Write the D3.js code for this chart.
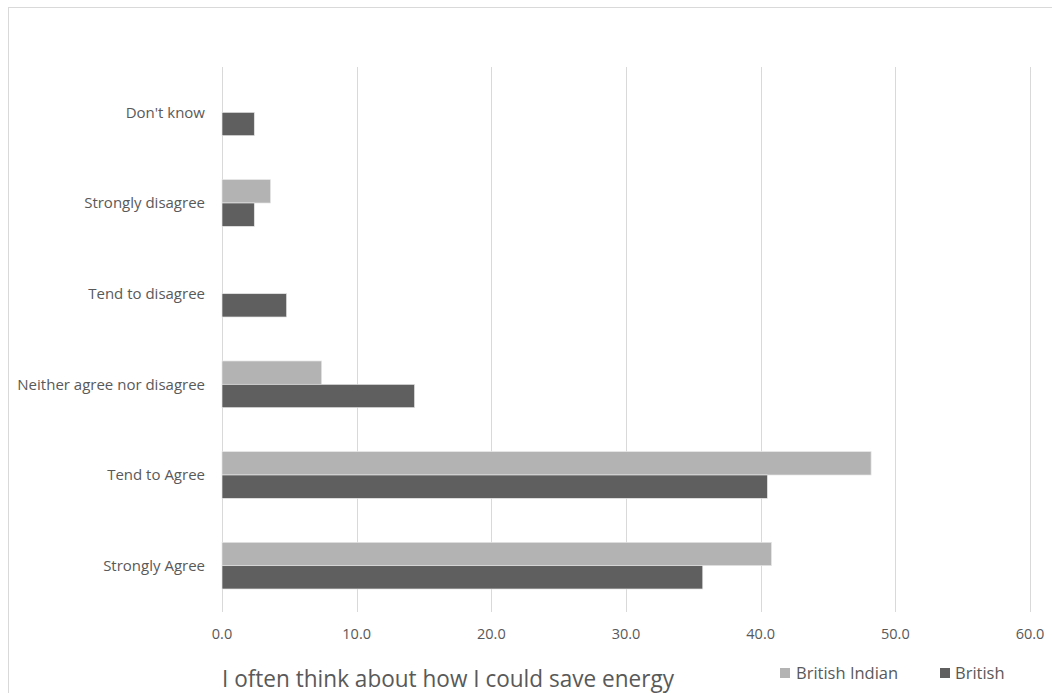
<!DOCTYPE html>
<html><head><meta charset="utf-8">
<script src="https://cdn.jsdelivr.net/npm/d3@7"></script>
<style>body{margin:0;background:#fff}svg{display:block}text{font-family:"Open Sans","Liberation Sans",sans-serif;fill:#595959}</style>
</head><body><svg id="c" width="1052" height="693"></svg>
<script>
const categories = ["Don't know","Strongly disagree","Tend to disagree","Neither agree nor disagree","Tend to Agree","Strongly Agree"];
const seriesNames = ["British Indian","British"];
const britishIndian = [0,3.6,0,7.4,48.2,40.8];
const british = [2.4,2.4,4.8,14.3,40.5,35.7];
const xTicks = [0,10,20,30,40,50,60];
const colors = ["#b3b3b3","#5f5f5f"];
const title = "I often think about how I could save energy";

const svg = d3.select("#c");
svg.append("rect").attr("x",8.5).attr("y",7.5).attr("width",1050).attr("height",700)
  .attr("fill","none").attr("stroke","#d9d9d9");

const x = d3.scaleLinear().domain([0,60]).range([222,1030]);
const y = d3.scaleBand().domain(categories).range([67,611]).paddingInner(0.485).paddingOuter(0.2425);
const ys = d3.scaleBand().domain(seriesNames).range([0,y.bandwidth()]);

// gridlines
svg.append("g").selectAll("line").data(xTicks).join("line")
  .attr("x1",d=>Math.round(x(d))+0.5).attr("x2",d=>Math.round(x(d))+0.5)
  .attr("y1",67).attr("y2",612).attr("stroke","#d9d9d9").attr("stroke-width",1);

const data = categories.map((c,i)=>({c, vals:[britishIndian[i],british[i]]}));
const g = svg.append("g");
data.forEach(d=>{
  d.vals.forEach((v,j)=>{
    if(v<=0) return;
    g.append("rect").attr("x",x(0)).attr("y",y(d.c)+ys(seriesNames[j]))
      .attr("width",x(v)-x(0)).attr("height",ys.bandwidth())
      .attr("fill",colors[j]).attr("stroke","#e6e6e6").attr("stroke-width",0.7);
  });
});

// category labels
svg.append("g").selectAll("text").data(categories).join("text")
  .attr("x",205).attr("y",d=>y(d)+y.bandwidth()/2).attr("dy","0.35em")
  .attr("text-anchor","end").style("font-size","15px").text(d=>d);

// x tick labels
svg.append("g").selectAll("text").data(xTicks).join("text")
  .attr("x",d=>x(d)).attr("y",639).attr("text-anchor","middle")
  .style("font-size","14.5px").text(d=>d3.format(".1f")(d));

// title
svg.append("text").attr("x",222).attr("y",687).style("font-size","23px")
  .attr("textLength",452).attr("lengthAdjust","spacingAndGlyphs").text(title);

// legend
const leg = [{n:seriesNames[0],x:780,tx:796},{n:seriesNames[1],x:940,tx:955}];
leg.forEach((l,i)=>{
  svg.append("rect").attr("x",l.x).attr("y",668).attr("width",10).attr("height",10).attr("fill",colors[i]);
  svg.append("text").attr("x",l.tx).attr("y",679).style("font-size","16.5px").text(l.n);
});
</script></body></html>
